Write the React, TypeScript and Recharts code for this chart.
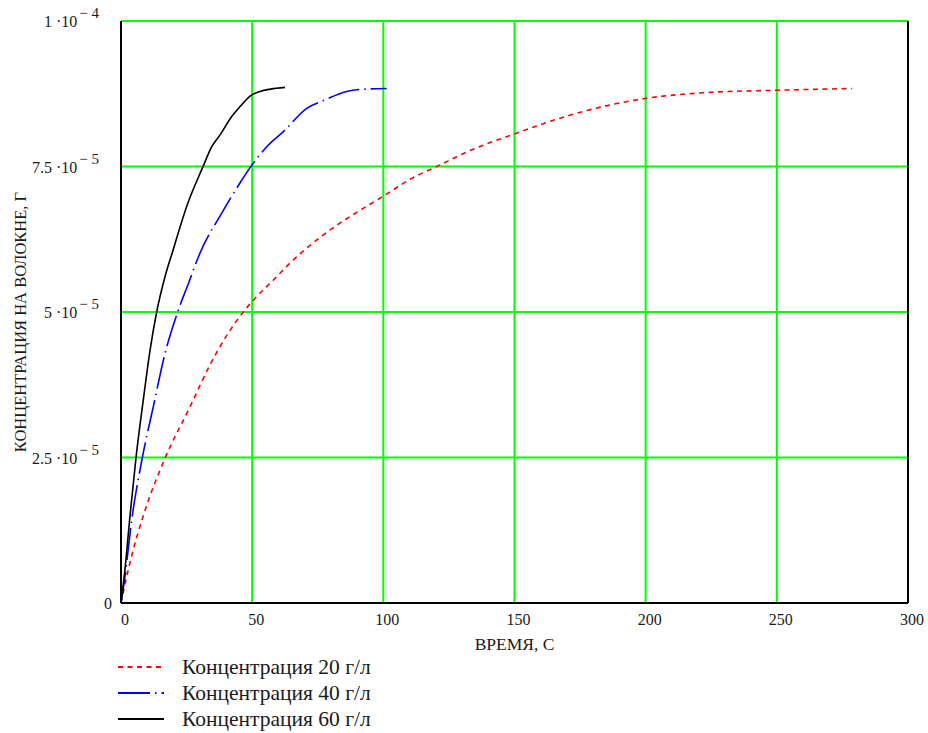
import { CartesianGrid, Line, LineChart, ReferenceLine, XAxis, YAxis } from "recharts";

// the reference fills the whole window, so drop the default body margin
document.body.style.margin = "0";

// time, s
const time20 = [0, 4, 8.5, 16.8, 26.3, 33.9, 46.6, 50, 59.4, 64.4, 79.7, 92.3, 100, 111, 120.4, 131.8, 150, 171, 200, 223, 250, 278.6];
// concentration on fibre, g
const conc20 = [0, 0.8e-5, 1.5e-5, 2.49e-5, 3.37e-5, 4.09e-5, 5.0e-5, 5.18e-5, 5.61e-5, 5.84e-5, 6.41e-5, 6.78e-5, 6.99e-5, 7.3e-5, 7.5e-5, 7.75e-5, 8.06e-5, 8.38e-5, 8.67e-5, 8.77e-5, 8.81e-5, 8.84e-5];

const time40 = [0, 1.5, 4.1, 8.1, 12.3, 16.8, 21.6, 25.7, 30, 38.4, 45.4, 49.2, 56.2, 61.9, 70.8, 77, 86, 93, 101.3];
const conc40 = [0, 0.45e-5, 1.43e-5, 2.49e-5, 3.37e-5, 4.29e-5, 5.0e-5, 5.49e-5, 6.0e-5, 6.7e-5, 7.22e-5, 7.48e-5, 7.87e-5, 8.1e-5, 8.5e-5, 8.63e-5, 8.79e-5, 8.83e-5, 8.84e-5];

const time60 = [0, 1.5, 3.4, 5.7, 8.5, 11.1, 13.6, 16.8, 19.9, 25, 31.1, 34.6, 37.7, 42.2, 45.4, 49.2, 53, 57, 62.5];
const conc60 = [0, 0.57e-5, 1.48e-5, 2.49e-5, 3.49e-5, 4.35e-5, 5.0e-5, 5.61e-5, 6.07e-5, 6.81e-5, 7.48e-5, 7.84e-5, 8.04e-5, 8.36e-5, 8.53e-5, 8.71e-5, 8.79e-5, 8.83e-5, 8.86e-5];

const xTicks = [0, 50, 100, 150, 200, 250, 300];
const yTicks = [0, 2.5e-5, 5e-5, 7.5e-5, 1e-4];
const yTickMantissa = ["0", "2.5 ·10", "5 ·10", "7.5 ·10", "1 ·10"];
const yTickExponent = ["", "− 5", "− 5", "− 5", "− 4"];

const seriesNames = ["Концентрация 20 г/л", "Концентрация 40 г/л", "Концентрация 60 г/л"];
const seriesColors = ["#ff0000", "#0000ff", "#000000"];
const seriesDashes = ["5 4.5", "32 5 1.5 5", undefined];

const FONT = "'Liberation Serif', 'Times New Roman', serif";

const toPoints = (t: number[], c: number[]) => t.map((time, i) => ({ t: time, c: c[i] }));

const series = [toPoints(time20, conc20), toPoints(time40, conc40), toPoints(time60, conc60)];

const YTick = (props: any) => {
  const { x, y, payload } = props;
  const idx = yTicks.indexOf(payload.value);
  const exp = yTickExponent[idx] ?? "";
  return (
    <text
      x={exp ? x : x + 13}
      y={y + 6}
      textAnchor="end"
      fill="#1a1a1a"
      fontFamily={FONT}
      fontSize={16}
    >
      {yTickMantissa[idx]}
      {exp && (
        <tspan dy={-9} dx={2} fontSize={15}>
          {exp}
        </tspan>
      )}
    </text>
  );
};

const XTick = (props: any) => {
  const { x, y, payload } = props;
  return (
    <text x={x + 4} y={y + 14} textAnchor="middle" fill="#1a1a1a" fontFamily={FONT} fontSize={16}>
      {payload.value}
    </text>
  );
};

export default function App() {
  return (
    <div style={{ position: "relative", width: 928, height: 733, background: "#fff" }}>
      <LineChart width={928} height={658} margin={{ top: 21, right: 20, left: 0, bottom: 5 }}>
        <CartesianGrid stroke="#00ff00" strokeWidth={2} />
        <XAxis
          dataKey="t"
          type="number"
          domain={[0, 300]}
          ticks={xTicks}
          tick={<XTick />}
          tickLine={false}
          axisLine={{ stroke: "#000", strokeWidth: 2 }}
          height={50}
          allowDataOverflow
          label={(p: any) => {
            const vb = p.viewBox;
            return (
              <text
                x={vb.x + vb.width / 2}
                y={vb.y + 47}
                textAnchor="middle"
                fill="#1a1a1a"
                fontFamily={FONT}
                fontSize={17.5}
              >
                ВРЕМЯ, С
              </text>
            );
          }}
        />
        <YAxis
          type="number"
          domain={[0, 1e-4]}
          ticks={yTicks}
          tick={<YTick />}
          tickLine={false}
          tickMargin={16}
          axisLine={{ stroke: "#000", strokeWidth: 2 }}
          width={121}
          label={(p: any) => {
            const vb = p.viewBox;
            const cy = vb.y + vb.height / 2 + 10;
            return (
              <text
                x={20}
                y={cy}
                transform={`rotate(-90 20 ${cy})`}
                textAnchor="middle"
                dominantBaseline="central"
                fill="#1a1a1a"
                fontFamily={FONT}
                fontSize={16.5}
              >
                КОНЦЕНТРАЦИЯ НА ВОЛОКНЕ, Г
              </text>
            );
          }}
        />
        {/* black frame on the right edge, over the grid */}
        <ReferenceLine x={300} stroke="#000" strokeWidth={2} />
        {series.map((data, i) => (
          <Line
            key={seriesNames[i]}
            data={data}
            dataKey="c"
            type="monotone"
            stroke={seriesColors[i]}
            strokeWidth={1.6}
            strokeDasharray={seriesDashes[i]}
            dot={false}
            isAnimationActive={false}
          />
        ))}
      </LineChart>
      <div style={{ position: "absolute", left: 118, top: 654 }}>
        {seriesNames.map((name, i) => (
          <div key={name} style={{ display: "flex", alignItems: "center", height: 26 }}>
            <svg width={46} height={10} style={{ marginRight: 18 }}>
              <line
                x1={0}
                y1={5}
                x2={46}
                y2={5}
                stroke={seriesColors[i]}
                strokeWidth={1.8}
                strokeDasharray={seriesDashes[i]}
              />
            </svg>
            <span style={{ fontFamily: FONT, fontSize: 21.5, color: "#1a1a1a", lineHeight: "26px" }}>{name}</span>
          </div>
        ))}
      </div>
    </div>
  );
}
